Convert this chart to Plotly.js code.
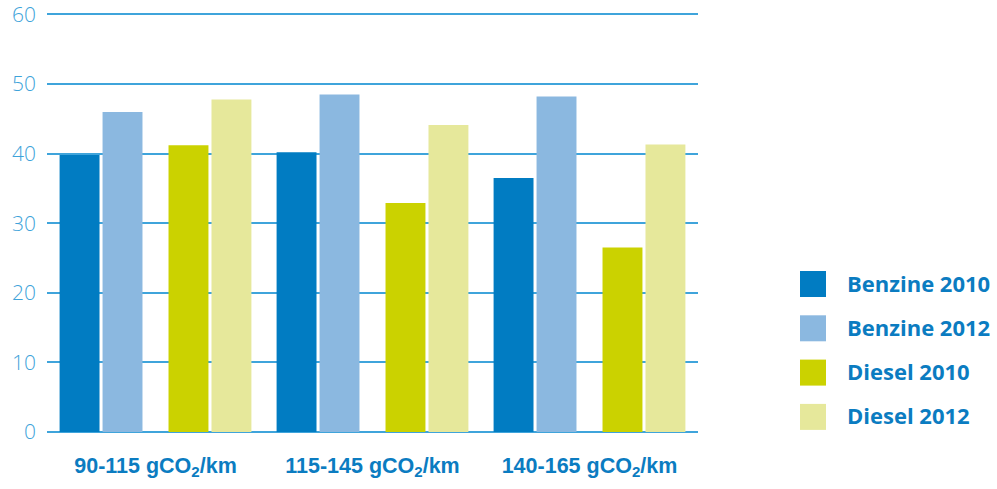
<!DOCTYPE html>
<html>
<head>
<meta charset="utf-8">
<script src="https://cdn.plot.ly/plotly-3.0.1.min.js"></script>
<style>
  html, body { margin: 0; padding: 0; background: #ffffff; }
  #chart { width: 997px; height: 489px; }
</style>
</head>
<body>
<div id="chart"></div>
<script>
// Share of vehicles per CO2 band (%)
const categories = [
  '90-115 gCO<sub>2</sub>/km',
  '115-145 gCO<sub>2</sub>/km',
  '140-165 gCO<sub>2</sub>/km'
];
const seriesNames = ['Benzine 2010', 'Benzine 2012', 'Diesel 2010', 'Diesel 2012'];
const benzine2010 = [39.8, 40.2, 36.5];
const benzine2012 = [46.0, 48.5, 48.2];
const diesel2010  = [41.2, 32.9, 26.5];
const diesel2012  = [47.8, 44.1, 41.3];
const yTicks = [0, 10, 20, 30, 40, 50, 60];

const values  = [benzine2010, benzine2012, diesel2010, diesel2012];
const colors  = ['#017cc2', '#8bb8e0', '#cbd200', '#e6e89b'];
// benzine pair on the left, diesel pair on the right of each band
const offsets = [-0.442, -0.244, 0.06, 0.258];
const barWidth = 0.184;

const W = 997, H = 489;
const M = { l: 47, r: 299, t: 11, b: 57 };
const plotW = W - M.l - M.r, plotH = H - M.t - M.b;
const px2x = p => (p - M.l) / plotW;
const px2y = p => (H - M.b - p) / plotH;

const textBlue = '#0b7cc1';

const traces = seriesNames.map((name, i) => ({
  type: 'bar',
  name: name,
  x: categories,
  y: values[i],
  offset: offsets[i],
  width: barWidth,
  marker: { color: colors[i], line: { width: 0 } },
  showlegend: false,
  hoverinfo: 'x+y+name'
}));

// legend drawn as large swatches with bold labels
const shapes = [], annotations = [];
seriesNames.forEach((name, i) => {
  const cy = 284 + i * 44.3;
  shapes.push({
    type: 'rect', xref: 'paper', yref: 'paper',
    x0: px2x(800), x1: px2x(826),
    y0: px2y(cy + 13), y1: px2y(cy - 13),
    fillcolor: colors[i], line: { width: 0 }
  });
  annotations.push({
    xref: 'paper', yref: 'paper',
    x: px2x(845), y: px2y(cy - 1.5),
    xanchor: 'left', yanchor: 'middle',
    text: '<b>' + name + '</b>', showarrow: false,
    font: { family: '"Open Sans", sans-serif', size: 22, color: textBlue }
  });
});

const layout = {
  width: W, height: H,
  margin: M,
  paper_bgcolor: '#ffffff',
  plot_bgcolor: '#ffffff',
  barmode: 'overlay',
  showlegend: false,
  xaxis: {
    type: 'category',
    range: [-0.5, 2.5],
    showgrid: false,
    zeroline: false,
    showline: false,
    ticks: '',
    ticklabelstandoff: 18,
    tickfont: { family: '"Liberation Sans", Arial, sans-serif', size: 21.5, color: textBlue, weight: 'bold' }
  },
  yaxis: {
    range: [0, 60.5],
    tickvals: yTicks,
    ticktext: yTicks.map(String),
    showgrid: true,
    gridcolor: '#3fa4db',
    gridwidth: 2,
    zeroline: true,
    zerolinecolor: '#3fa4db',
    zerolinewidth: 2,
    showline: false,
    ticks: '',
    ticklabelstandoff: 10,
    ticklabeloverflow: 'allow',
    tickfont: { family: '"Open Sans", sans-serif', size: 21, color: '#3ea3da', weight: 300 }
  },
  shapes: shapes,
  annotations: annotations
};

Plotly.newPlot('chart', traces, layout, { displayModeBar: false, staticPlot: true });
</script>
</body>
</html>
